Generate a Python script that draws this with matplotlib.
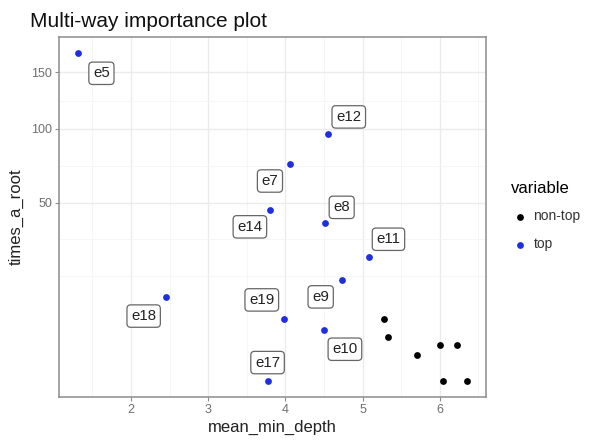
import numpy as np
import matplotlib.pyplot as plt

plt.rcParams['font.family'] = ['Liberation Sans', 'DejaVu Sans']

# data
top_names = ['e5', 'e12', 'e7', 'e14', 'e8', 'e11', 'e9', 'e18', 'e19', 'e10', 'e17']
top_depth = [1.32, 4.55, 4.06, 3.80, 4.51, 5.09, 4.73, 2.45, 3.98, 4.50, 3.77]
top_root = [169, 96, 74, 46, 39, 24, 16, 11, 6, 4, 0]
nontop_depth = [5.28, 5.33, 5.70, 6.00, 6.23, 6.04, 6.35]
nontop_root = [6, 3, 1, 2, 2, 0, 0]
# label offsets in pixels (ggrepel placement)
label_dx = [23, 21, -20, -20, 17, 19, -21, -22, -22, 21, 0]
label_dy = [-20, 17, -17, -17, 16, 18, -17, -19, 19, -19, 18]

y_ticks = [50, 100, 150]


def fwd(y):
	y = np.asarray(y, dtype=float)
	return np.sign(y) * np.sqrt(np.abs(y))


def inv(y):
	y = np.asarray(y, dtype=float)
	return np.sign(y) * y ** 2


fig = plt.figure(figsize=(5.9, 4.45), dpi=100)
ax = fig.add_axes([0.100, 0.108, 0.724, 0.809])
ax.set_yscale('function', functions=(fwd, inv))

ax.scatter(nontop_depth, nontop_root, s=24, color='black', zorder=3, label='non-top', linewidths=0)
ax.scatter(top_depth, top_root, s=24, color='#1f2fe0', zorder=3, label='top', linewidths=0)

for name, x, y, dx, dy in zip(top_names, top_depth, top_root, label_dx, label_dy):
	ax.annotate(name, (x, y), xytext=(dx, dy), textcoords='offset pixels',
		ha='center', va='center', fontsize=10.8, color='#222222', zorder=4,
		bbox=dict(boxstyle='round,pad=0.28,rounding_size=0.25', fc='white', ec='#666666', lw=0.9))

# ggplot-like 5% expansion
all_x = top_depth + nontop_depth
xr = max(all_x) - min(all_x)
ax.set_xlim(min(all_x) - 0.05 * xr, max(all_x) + 0.05 * xr)
sy = fwd(top_root + nontop_root)
yr = sy.max() - sy.min()
ax.set_ylim(inv(sy.min() - 0.05 * yr), inv(sy.max() + 0.05 * yr))

ax.set_xticks([2, 3, 4, 5, 6])
ax.set_xticks([1.5, 2.5, 3.5, 4.5, 5.5, 6.5], minor=True)
ax.set_yticks(y_ticks)
sb = list(fwd(y_ticks))
sb = [sb[0] - (sb[1] - sb[0])] + sb
minor_s = [sb[0]] + [(a + b) / 2 for a, b in zip(sb[:-1], sb[1:])]
ax.set_yticks(inv(minor_s), minor=True)
ax.set_yticklabels([str(t) for t in y_ticks])

ax.grid(True, which='major', color='#ebebeb', lw=1.0)
ax.grid(True, which='minor', color='#f5f5f5', lw=0.6)
ax.set_axisbelow(True)
for s in ax.spines.values():
	s.set_color('#8c8c8c')
	s.set_linewidth(1.1)
ax.tick_params(which='major', length=3, color='#8c8c8c', labelsize=9, labelcolor='#6e6e6e', pad=2)
ax.tick_params(which='minor', length=0)

ax.set_xlabel('mean_min_depth', fontsize=12, labelpad=3, color='#222222')
ax.set_ylabel('times_a_root', fontsize=12, labelpad=5, color='#222222')

fig.text(30 / 590, 1 - 27 / 445, 'Multi-way importance plot', fontsize=15, ha='left', va='baseline', color='#111111')

leg = fig.legend(loc='upper left', bbox_to_anchor=(505 / 590, 1 - 175 / 445), frameon=False,
	title='variable', fontsize=10, title_fontsize=12, handletextpad=0.25, labelspacing=1.0,
	markerscale=1.0, borderaxespad=0, handlelength=1.4)
leg._legend_box.align = 'left'
for t in leg.get_texts():
	t.set_color('#333333')

fig.savefig('out.png', dpi=100)
